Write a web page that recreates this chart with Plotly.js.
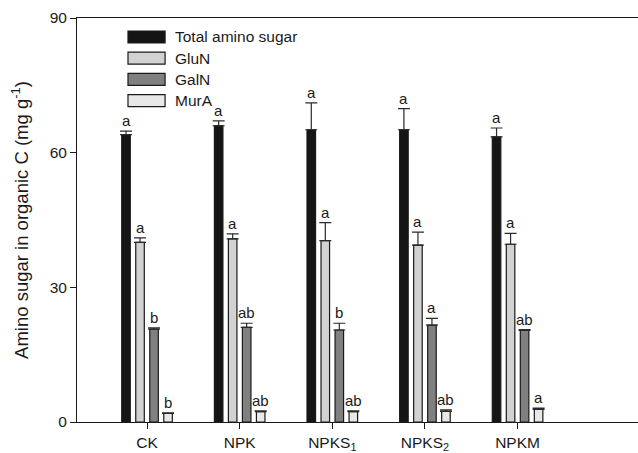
<!DOCTYPE html>
<html>
<head>
<meta charset="utf-8">
<script src="https://cdn.plot.ly/plotly-3.0.1.min.js"></script>
<style>html,body{margin:0;padding:0;background:#fff;}#chart{width:638px;height:453px;}</style>
</head>
<body>
<div id="chart"></div>
<script>
// ---- data ----
const categories = ['CK', 'NPK', 'NPKS1', 'NPKS2', 'NPKM'];
const tickLabels = ['CK', 'NPK', 'NPKS<sub>1</sub>', 'NPKS<sub>2</sub>', 'NPKM'];
const seriesNames = ['Total amino sugar', 'GluN', 'GalN', 'MurA'];

const totalValues = [64.0, 66.0, 65.1, 65.1, 63.5];
const totalErrors = [0.8, 1.1, 6.0, 4.7, 2.0];
const totalLetters = ['a', 'a', 'a', 'a', 'a'];

const glunValues = [40.0, 40.8, 40.4, 39.4, 39.6];
const glunErrors = [1.0, 1.1, 4.0, 2.9, 2.4];
const glunLetters = ['a', 'a', 'a', 'a', 'a'];

const galnValues = [20.7, 21.1, 20.5, 21.6, 20.4];
const galnErrors = [0.3, 0.9, 1.5, 1.5, 0.2];
const galnLetters = ['b', 'ab', 'b', 'a', 'ab'];

const muraValues = [1.9, 2.3, 2.3, 2.35, 2.8];
const muraErrors = [0.15, 0.2, 0.2, 0.35, 0.3];
const muraLetters = ['b', 'ab', 'ab', 'ab', 'a'];

const yTicks = [0, 30, 60, 90];

// ---- styling ----
const fillColors = ['#151515', '#d2d2d2', '#808080', '#e8e8e8'];
const outline = '#1a1a1a';
const FONT = 'Liberation Sans, Arial, sans-serif';
const bargap = 0.395;
const nSeries = 4;

const values = [totalValues, glunValues, galnValues, muraValues];
const errors = [totalErrors, glunErrors, galnErrors, muraErrors];
const letters = [totalLetters, glunLetters, galnLetters, muraLetters];

const traces = values.map((vals, i) => ({
  type: 'bar',
  name: seriesNames[i],
  x: categories,
  y: vals,
  marker: { color: fillColors[i], line: { color: outline, width: 1.2 } },
  error_y: {
    type: 'data', symmetric: false,
    array: errors[i], arrayminus: vals.map(() => 0),
    color: '#2a2a2a', thickness: 1.2, width: 6
  },
  showlegend: false,
  hoverinfo: 'skip'
}));

// significance letters above each error bar
const slot = (1 - bargap) / nSeries;
const annotations = [];
values.forEach((vals, i) => {
  vals.forEach((v, j) => {
    annotations.push({
      x: j + (i - (nSeries - 1) / 2) * slot,
      y: v + errors[i][j],
      xref: 'x', yref: 'y',
      text: letters[i][j],
      showarrow: false,
      yanchor: 'bottom',
      yshift: 0,
      font: { family: FONT, size: 15, color: '#1a1a1a' }
    });
  });
});

// custom legend (wide swatches)
const shapes = [];
const legTop = 0.953, legStep = 0.0525, halfH = 0.0148;
seriesNames.forEach((name, i) => {
  const yc = legTop - i * legStep;
  shapes.push({
    type: 'rect', xref: 'paper', yref: 'paper',
    x0: 0.0909, x1: 0.157, y0: yc - halfH, y1: yc + halfH,
    fillcolor: fillColors[i], line: { color: outline, width: 1.2 }
  });
  annotations.push({
    x: 0.171, y: yc, xref: 'paper', yref: 'paper',
    xanchor: 'left', yanchor: 'middle', showarrow: false,
    text: name, font: { family: FONT, size: 15.5, color: '#1a1a1a' }
  });
});

const layout = {
  width: 638, height: 453,
  margin: { l: 77, r: 0, t: 18, b: 31 },
  paper_bgcolor: '#fff', plot_bgcolor: '#fff',
  font: { family: FONT, size: 15, color: '#1a1a1a' },
  barmode: 'group',
  bargap: bargap,
  bargroupgap: 0.39,
  showlegend: false,
  xaxis: {
    type: 'category',
    range: [-0.756, 5.30],
    tickvals: categories, ticktext: tickLabels,
    showline: true, linecolor: '#1a1a1a', linewidth: 1, mirror: true,
    ticks: 'outside', ticklen: 6, tickcolor: '#1a1a1a', tickwidth: 1,
    showgrid: false, zeroline: false, automargin: false,
    tickfont: { family: FONT, size: 15.5, color: '#1a1a1a' }
  },
  yaxis: {
    range: [0, 90],
    tickvals: yTicks,
    showline: true, linecolor: '#1a1a1a', linewidth: 1,
    ticks: 'outside', ticklen: 6, tickcolor: '#1a1a1a', tickwidth: 1,
    showgrid: false, zeroline: false, automargin: false,
    tickfont: { family: FONT, size: 15.5, color: '#1a1a1a' },
    title: {
      text: 'Amino sugar in organic C (mg g<sup>-1</sup>)',
      font: { family: FONT, size: 18.5, color: '#1a1a1a' },
      standoff: 16
    }
  },
  shapes: shapes,
  annotations: annotations
};

Plotly.newPlot('chart', traces, layout, { staticPlot: true, displayModeBar: false });
</script>
</body>
</html>
